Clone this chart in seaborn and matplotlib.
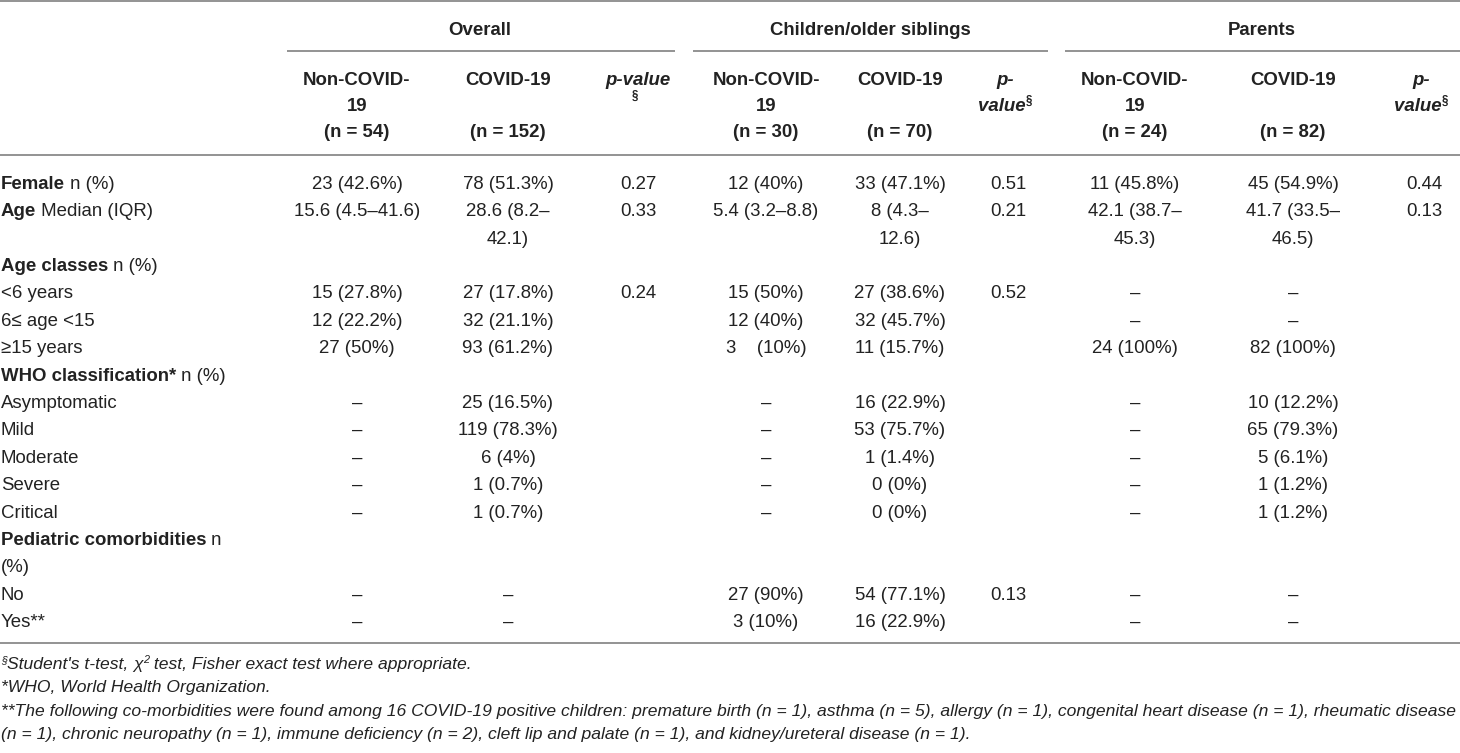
import matplotlib
matplotlib.use('Agg')
import matplotlib.pyplot as plt
import seaborn as sns
from matplotlib import font_manager

# table content
groups = ['Overall', 'Children/older siblings', 'Parents']
group_n = [('54', '152'), ('30', '70'), ('24', '82')]

row_bold = ['Female', 'Age', '', 'Age classes', '', '', '', 'WHO classification*',
            '', '', '', '', '', 'Pediatric comorbidities', '', '', '']
row_plain = [' n (%)', ' Median (IQR)', '', ' n (%)', '<6 years', '6\u2264 age <15', '\u226515 years',
             ' n (%)', 'Asymptomatic', 'Mild', 'Moderate', 'Severe', 'Critical', ' n', '(%)',
             'No', 'Yes**']

D = '\u2013'
# one list per column, aligned with the rows above ('\n' = value wraps to next row)
overall_non = ['23 (42.6%)', '15.6 (4.5\u201341.6)', '', '', '15 (27.8%)', '12 (22.2%)', '27 (50%)', '',
               D, D, D, D, D, '', '', D, D]
overall_cov = ['78 (51.3%)', '28.6 (8.2\u2013\n42.1)', '', '', '27 (17.8%)', '32 (21.1%)', '93 (61.2%)', '',
               '25 (16.5%)', '119 (78.3%)', '6 (4%)', '1 (0.7%)', '1 (0.7%)', '', '', D, D]
overall_p = ['0.27', '0.33', '', '', '0.24', '', '', '', '', '', '', '', '', '', '', '', '']
child_non = ['12 (40%)', '5.4 (3.2\u20138.8)', '', '', '15 (50%)', '12 (40%)', '3    (10%)', '',
             D, D, D, D, D, '', '', '27 (90%)', '3 (10%)']
child_cov = ['33 (47.1%)', '8 (4.3\u2013\n12.6)', '', '', '27 (38.6%)', '32 (45.7%)', '11 (15.7%)', '',
             '16 (22.9%)', '53 (75.7%)', '1 (1.4%)', '0 (0%)', '0 (0%)', '', '', '54 (77.1%)', '16 (22.9%)']
child_p = ['0.51', '0.21', '', '', '0.52', '', '', '', '', '', '', '', '', '', '', '0.13', '']
par_non = ['11 (45.8%)', '42.1 (38.7\u2013\n45.3)', '', '', D, D, '24 (100%)', '',
           D, D, D, D, D, '', '', D, D]
par_cov = ['45 (54.9%)', '41.7 (33.5\u2013\n46.5)', '', '', D, D, '82 (100%)', '',
           '10 (12.2%)', '65 (79.3%)', '5 (6.1%)', '1 (1.2%)', '1 (1.2%)', '', '', D, D]
par_p = ['0.44', '0.13', '', '', '', '', '', '', '', '', '', '', '', '', '', '', '']
columns = [overall_non, overall_cov, overall_p, child_non, child_cov, child_p, par_non, par_cov, par_p]

footnotes = [
    [('\u00a7', 'sup'), ("Student's t-test, ", ''), ('\u03c7', ''), ('2', 'sup'),
     (' test, Fisher exact test where appropriate.', '')],
    [('*WHO, World Health Organization.', '')],
    [('**The following co-morbidities were found among 16 COVID-19 positive children: premature birth (n = 1), '
      'asthma (n = 5), allergy (n = 1), congenital heart disease (n = 1), rheumatic disease', '')],
    [('(n = 1), chronic neuropathy (n = 1), immune deficiency (n = 2), cleft lip and palate (n = 1), '
      'and kidney/ureteral disease (n = 1).', '')],
]

# layout
col_x = [357, 508, 638, 766, 900, 1008, 1135, 1293, 1424]
group_x = [480, 870, 1262]
group_span = [(287, 675), (693, 1048), (1065, 1460)]
head_y = [78, 104, 130]
row0, row_step = 182, 27.4
foot_y = [663, 686, 710, 733]
FS = 13.4
TXT = '#222222'
RULE = '#8a8a8a'

sns.set_theme(style='white')
names = {f.name for f in font_manager.fontManager.ttflist}
FONT = next(f for f in ['Liberation Sans Narrow', 'DejaVu Sans Condensed', 'Liberation Sans', 'DejaVu Sans']
            if f in names)
plt.rcParams['font.family'] = [FONT, 'DejaVu Sans']

fig = plt.figure(figsize=(14.6, 7.53), dpi=100)
ax = fig.add_axes([0, 0, 1, 1])
ax.set_xlim(0, 1460)
ax.set_ylim(753, 0)
ax.axis('off')
renderer = fig.canvas.get_renderer()


def put_runs(x, y, runs, ha='left', size=FS):
    # runs: (text, weight, style, sup) drawn one after another on one baseline
    arts = []
    for txt, weight, style, sup in runs:
        s = size * 0.62 if sup else size
        t = ax.text(0, y - (size * 0.5 if sup else 0), txt, fontsize=s, fontweight=weight,
                    fontstyle=style, color=TXT, va='baseline', ha='left')
        arts.append((t, t.get_window_extent(renderer).width))
    total = sum(w for _, w in arts)
    cur = x - total / 2 if ha == 'center' else (x - total if ha == 'right' else x)
    for t, w in arts:
        t.set_x(cur)
        cur += w
    return arts, total


def base(yc, size=FS):
    return yc + size * 1.389 * 0.36


# rules
ax.hlines([1, 155, 643], 0, 1460, color=RULE, lw=1.3)
for a, b in group_span:
    ax.hlines(51, a, b, color=RULE, lw=1.3)

# group titles
for gx, g in zip(group_x, groups):
    put_runs(gx, base(28), [(g, 'bold', 'normal', False)], ha='center')

# column headers
for i, (n_non, n_cov) in enumerate(group_n):
    xn, xc, xp = col_x[3 * i], col_x[3 * i + 1], col_x[3 * i + 2]
    put_runs(xn, base(head_y[0]), [('Non-COVID-', 'bold', 'normal', False)], ha='center')
    put_runs(xn, base(head_y[1]), [('19', 'bold', 'normal', False)], ha='center')
    put_runs(xn, base(head_y[2]), [(f'(n = {n_non})', 'bold', 'normal', False)], ha='center')
    put_runs(xc, base(head_y[0]), [('COVID-19', 'bold', 'normal', False)], ha='center')
    put_runs(xc, base(head_y[2]), [(f'(n = {n_cov})', 'bold', 'normal', False)], ha='center')
    if i == 0:
        put_runs(xp, base(head_y[0]), [('p-value', 'bold', 'italic', False)], ha='center')
        put_runs(xp - 3, base(head_y[1]) - 5, [('\u00a7', 'bold', 'normal', True)], ha='center')
    else:
        put_runs(xp - 3, base(head_y[0]), [('p-', 'bold', 'italic', False)], ha='center')
        put_runs(xp - 3, base(head_y[1]), [('value', 'bold', 'italic', False),
                                          ('\u00a7', 'bold', 'normal', True)], ha='center')

# body
for r in range(len(row_plain)):
    y = row0 + r * row_step
    if row_bold[r] or row_plain[r]:
        put_runs(1, base(y), [(row_bold[r], 'bold', 'normal', False),
                              (row_plain[r], 'normal', 'normal', False)])
    for cx, col in zip(col_x, columns):
        for k, line in enumerate(col[r].split('\n')):
            if line:
                put_runs(cx, base(y + k * row_step), [(line, 'normal', 'normal', False)], ha='center')

# footnotes (italic), sized so the longest line spans the table width
probe = ax.text(0, 0, footnotes[2][0][0], fontsize=FS, fontstyle='italic')
fn_size = FS * 1452 / probe.get_window_extent(renderer).width
probe.remove()
for fy, fn in zip(foot_y, footnotes):
    runs = [(t, 'normal', 'italic', kind == 'sup') for t, kind in fn]
    put_runs(1, base(fy, fn_size), runs, size=fn_size)

fig.savefig('out.png', dpi=100)
print(FONT)
